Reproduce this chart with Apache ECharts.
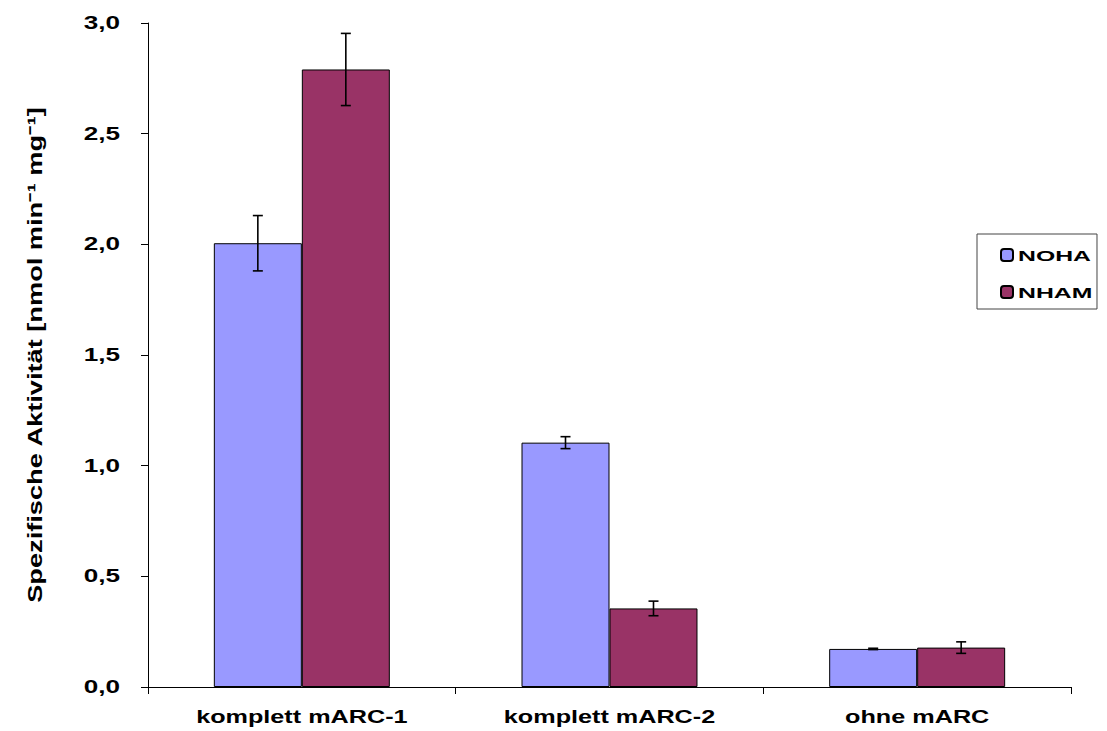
<!DOCTYPE html>
<html><head><meta charset="utf-8">
<script src="https://cdn.jsdelivr.net/npm/echarts@6/dist/echarts.min.js"></script>
<style>html,body{margin:0;padding:0;background:#fff}#c{width:1107px;height:731px}</style>
</head><body><div id="c"></div>
<script>
const categories = ['komplett mARC-1', 'komplett mARC-2', 'ohne mARC'];
const seriesNames = ['NOHA', 'NHAM'];
const nohaValues = [2.005, 1.104, 0.172];
const nhamValues = [2.79, 0.355, 0.178];
const nohaErrors = [0.125, 0.027, 0.003];
const nhamErrors = [0.163, 0.033, 0.026];
const yTickLabels = ['0,0', '0,5', '1,0', '1,5', '2,0', '2,5', '3,0'];
const yAxisTitle = 'Spezifische Aktivität [nmol min\u207B\u00B9 mg\u207B\u00B9]';

const colors = ['#9999FF', '#993366'];
const CAT_GAP = 0.428;
const FONT = "'Liberation Sans', Arial, sans-serif";

// horizontal stretch factors (reference text is rendered stretched)
const stretchMap = {};
categories.forEach(c => stretchMap[c] = 1.4);
yTickLabels.forEach(c => stretchMap[c] = 1.45);
seriesNames.forEach(c => stretchMap[c] = 1.65);
stretchMap[yAxisTitle] = 1.36;

function errData(vals, errs) { return vals.map((v, i) => [i, v - errs[i], v + errs[i]]); }

function errRender(side) {
  return function (params, api) {
    const idx = api.value(0);
    const band = api.size([1, 0])[0];
    const bw = band * (1 - CAT_GAP) / 2;
    const x = api.coord([idx, 0])[0] + side * bw / 2;
    const yLo = api.coord([idx, api.value(1)])[1];
    const yHi = api.coord([idx, api.value(2)])[1];
    const cap = 5;
    const style = { stroke: '#000', lineWidth: 1.6 };
    return {
      type: 'group', children: [
        { type: 'line', shape: { x1: x, y1: yLo, x2: x, y2: yHi }, style },
        { type: 'line', shape: { x1: x - cap, y1: yHi, x2: x + cap, y2: yHi }, style },
        { type: 'line', shape: { x1: x - cap, y1: yLo, x2: x + cap, y2: yLo }, style }
      ]
    };
  };
}

const chart = echarts.init(document.getElementById('c'), null, { renderer: 'svg' });
chart.setOption({
  animation: false,
  backgroundColor: '#fff',
  textStyle: { fontFamily: FONT },
  grid: { left: 148, right: 36, top: 23, bottom: 44, containLabel: false },
  legend: {
    data: seriesNames,
    orient: 'vertical',
    left: 977, top: 234,
    itemWidth: 12, itemHeight: 12, itemGap: 19,
    padding: [12, 34, 8, 23],
    borderColor: '#444', borderWidth: 1,
    textStyle: { fontSize: 15, fontWeight: 'bold', color: '#000', fontFamily: FONT, lineHeight: 18 }
  },
  xAxis: {
    type: 'category', data: categories,
    axisLine: { lineStyle: { color: '#000', width: 1 } },
    axisTick: { show: true, length: 7, lineStyle: { color: '#000' } },
    axisLabel: { interval: 0, margin: 21, fontSize: 18, fontWeight: 'bold', color: '#000', fontFamily: FONT },
    splitLine: { show: false }
  },
  yAxis: {
    type: 'value', min: 0, max: 3, interval: 0.5,
    name: yAxisTitle, nameLocation: 'middle', nameRotate: 90, nameGap: 103,
    nameTextStyle: { fontSize: 20, fontWeight: 'bold', color: '#000', fontFamily: FONT },
    axisLine: { show: true, lineStyle: { color: '#000', width: 1 } },
    axisTick: { show: true, length: 7, lineStyle: { color: '#000' } },
    axisLabel: { margin: 28, fontSize: 18, fontWeight: 'bold', color: '#000', fontFamily: FONT,
      formatter: v => yTickLabels[Math.round(v / 0.5)] },
    splitLine: { show: false }
  },
  series: [
    { name: seriesNames[0], type: 'bar', data: nohaValues, barGap: '0%', barCategoryGap: (CAT_GAP * 100) + '%',
      itemStyle: { color: colors[0], borderColor: '#000', borderWidth: 1 } },
    { name: seriesNames[1], type: 'bar', data: nhamValues, barGap: '0%', barCategoryGap: (CAT_GAP * 100) + '%',
      itemStyle: { color: colors[1], borderColor: '#000', borderWidth: 1 } },
    { type: 'custom', name: 'err0', renderItem: errRender(-1), data: errData(nohaValues, nohaErrors),
      encode: { x: 0, y: [1, 2] }, z: 10, silent: true },
    { type: 'custom', name: 'err1', renderItem: errRender(1), data: errData(nhamValues, nhamErrors),
      encode: { x: 0, y: [1, 2] }, z: 10, silent: true }
  ]
});

function stretchTexts() {
  document.querySelectorAll('#c svg text').forEach(t => {
    const k = stretchMap[t.textContent];
    if (!k || t.getAttribute('data-st') === t.textContent) return;
    t.removeAttribute('textLength');
    const L = t.getComputedTextLength();
    if (!L) return;
    t.setAttribute('textLength', (L * k).toFixed(1));
    t.setAttribute('lengthAdjust', 'spacingAndGlyphs');
    t.setAttribute('data-st', t.textContent);
  });
}
stretchTexts();
chart.on('finished', stretchTexts);
setTimeout(stretchTexts, 50);
setTimeout(stretchTexts, 300);
</script>
</body></html>
